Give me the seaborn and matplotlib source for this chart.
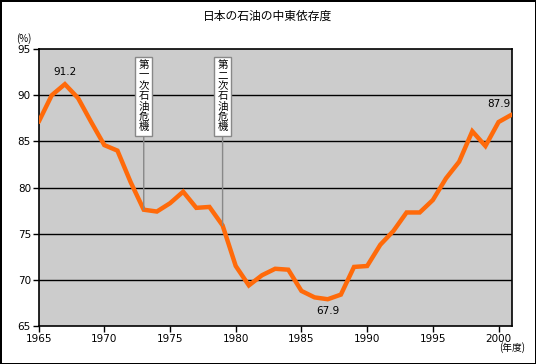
import matplotlib
matplotlib.use("Agg")
import matplotlib.pyplot as plt
import pandas as pd
import seaborn as sns

# ── Data ──────────────────────────────────────────────────────────────────────
years = list(range(1965, 2002))
share = [
    87.1, 90.0, 91.2, 89.7, 87.1, 84.6, 84.0, 80.6, 77.6, 77.4,
    78.3, 79.55, 77.8, 77.9, 75.9, 71.5, 69.4, 70.5, 71.2, 71.1,
    68.8, 68.1, 67.9, 68.4, 71.4, 71.5, 73.8, 75.3, 77.3, 77.3,
    78.65, 81.0, 82.8, 86.1, 84.5, 87.1, 87.9,
]
crisis_years = [1973, 1979]
crisis_labels = ["第一次石油危機", "第二次石油危機"]

df = pd.DataFrame({"year": years, "share": share})

sns.set_style("white")
plt.rcParams["font.family"] = ["Noto Sans CJK JP", "DejaVu Sans"]
plt.rcParams["text.color"] = "black"
plt.rcParams["xtick.color"] = "black"
plt.rcParams["ytick.color"] = "black"

fig = plt.figure(figsize=(5.36, 3.64), dpi=100)
fig.patch.set_facecolor("white")
fig.patch.set_edgecolor("black")
fig.patch.set_linewidth(2)

ax = fig.add_axes([0.072, 0.1044, 0.8827, 0.7607])
ax.set_facecolor("#cccccc")

sns.lineplot(data=df, x="year", y="share", ax=ax, color="#ff6a0a",
             linewidth=3.2, solid_joinstyle="miter", zorder=3)

ax.set_xlim(1965, 2001)
ax.set_ylim(65, 95)
ax.set_xticks(range(1965, 2001, 5))
ax.set_yticks(range(65, 96, 5))
ax.tick_params(axis="both", labelsize=7.5, length=4, width=1,
               direction="out", colors="black", pad=1.5, left=True, bottom=True)
for lbl in ax.get_xticklabels() + ax.get_yticklabels():
    lbl.set_family("DejaVu Sans")
ax.set_xlabel("")
ax.set_ylabel("")

# black horizontal gridlines
for y in range(70, 95, 5):
    ax.axhline(y, color="black", linewidth=1, zorder=1)
for side in ax.spines.values():
    side.set_color("black")
    side.set_linewidth(1.2)

# ── Value labels ──────────────────────────────────────────────────────────────
val = dict(zip(years, share))
ax.annotate(f"{val[1967]:.1f}", (1967, val[1967]), xytext=(0, 5),
            textcoords="offset points", ha="center", va="bottom",
            fontsize=7.5, family="DejaVu Sans")
ax.annotate(f"{val[1987]:.1f}", (1987, val[1987]), xytext=(0, -5),
            textcoords="offset points", ha="center", va="top",
            fontsize=7.5, family="DejaVu Sans")
ax.annotate(f"{val[2001]:.1f}", (2001, val[2001]), xytext=(-1, 4),
            textcoords="offset points", ha="right", va="bottom",
            fontsize=7.5, family="DejaVu Sans")

# ── Oil crisis callouts ───────────────────────────────────────────────────────
for yr, text in zip(crisis_years, crisis_labels):
    ax.annotate(
        "\n".join(text), xy=(yr, val[yr]), xytext=(yr, 89.9),
        ha="center", va="center", fontsize=7.5, linespacing=1.05,
        bbox=dict(boxstyle="square,pad=0.3", fc="white", ec="#888888", lw=1),
        arrowprops=dict(arrowstyle="-", color="#888888", lw=1,
                        shrinkA=0, shrinkB=0),
        zorder=4,
    )

# ── Titles ────────────────────────────────────────────────────────────────────
fig.text(0.5, 0.955, "日本の石油の中東依存度", ha="center", va="center", fontsize=8.5)
fig.text(0.045, 0.895, "(%)", ha="center", va="center", fontsize=7)
fig.text(0.955, 0.045, "(年度)", ha="center", va="center", fontsize=7)

fig.savefig("out.png", dpi=100)
